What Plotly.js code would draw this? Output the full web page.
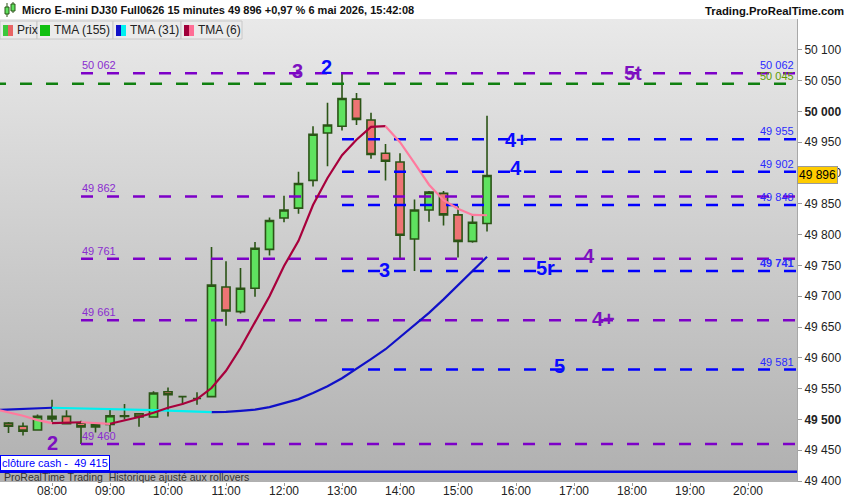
<!DOCTYPE html>
<html><head><meta charset="utf-8">
<script src="https://cdn.plot.ly/plotly-3.0.1.min.js"></script>
<style>
html,body{margin:0;padding:0;background:#fff;}
#wrap{position:relative;width:850px;height:500px;overflow:hidden;}
#bg{position:absolute;left:0;top:19px;width:797px;height:463px;background:linear-gradient(#e9e9e9,#b0b0b0);}
#chart{position:absolute;left:0;top:0;width:850px;height:500px;}
</style></head><body>
<div id="wrap"><div id="bg"></div><div id="chart"></div></div>
<script>
// ---------- data ----------
const DAY = '2026-05-06 ';
const times = ['07:15','07:30','07:45','08:00','08:15','08:30','08:45','09:00','09:15','09:30','09:45',
  '10:00','10:15','10:30','10:45','11:00','11:15','11:30','11:45','12:00','12:15','12:30','12:45',
  '13:00','13:15','13:30','13:45','14:00','14:15','14:30','14:45','15:00','15:15','15:30'];
const opens  = [49494,49489,49483,49501,49505,49494,49488,49492,49505,49509,49504,49545,49537,49534,49537,49715,49675,49713,49776,49827,49843,49888,49965,49976,50020,49986,49932,49918,49793,49840,49867,49832,49789,49818];
const highs  = [49496,49495,49508,49532,49515,49498,49495,49517,49525,49510,49546,49552,49537,49544,49780,49757,49746,49788,49828,49863,49902,49976,50014,50062,50030,49998,49947,49932,49857,49871,49871,49846,49832,49993];
const lows   = [49478,49474,49483,49495,49493,49460,49479,49480,49500,49488,49503,49505,49524,49524,49537,49652,49672,49699,49766,49820,49834,49878,49911,49969,49978,49923,49888,49760,49741,49821,49815,49763,49787,49805];
const closes = [49489,49481,49505,49505,49493,49488,49492,49506,49506,49504,49543,49540,49537,49534,49718,49676,49713,49778,49823,49840,49883,49963,49978,50021,49987,49930,49919,49799,49840,49869,49832,49789,49820,49896];

const lineTimes = ['07:00'].concat(times);
const tma31 = [49515,49516,49517,49518,49519,49518.6,49518.2,49517.8,49517.2,49516.6,49516,49515.2,49514.4,49513.6,49512.8,49512,
  49512.3,49514,49516,49520,49527,49533,49543,49554,49567,49582,49598,49614,49634,49653,49673,49695,49718,49741,49764];
const tma6 = [49517,49512,49506,49499,49494,49495,49495.5,49494,49493,49498,49504,49511,49519,49525,49533,49551,
  49579,49616,49658,49700,49749,49790,49848,49892,49929,49954,49975,49976,49950,49916,49881,49856,49842,49832,49831.5];

// horizontal levels
const levelValues = [50062, 50045, 49955, 49902, 49862, 49848, 49761, 49741, 49661, 49581, 49460];
const levelKinds  = ['p','g','b','b','p','b','p','b','p','b','p'];
const leftLabels  = ['50 062','','','','49 862','','49 761','','49 661','','49 460'];
const rightLabels = ['50 062','50 045','49 955','49 902','','49 848','','49 741','','49 581',''];
const cashClose = 49415;
const lastPrice = 49896;

// wave-count labels
const waveText  = ['3','2','5t','4+','4','3','5r','4','4+','5','2'];
const waveTime  = ['12:14','12:44','18:01','16:00','16:00','13:44','16:31','17:15','17:30','16:45','08:00'];
const waveValue = [50066,50072,50062,49954,49908,49743,49746,49765,49663,49587,49462];
const waveKind  = ['p','b','p','b','b','b','b','p','p','b','p'];

const yTickVals = [49400,49450,49500,49550,49600,49650,49700,49750,49800,49850,49900,49950,50000,50050,50100];
const yTickText = ['49 400','49 450','<b>49 500</b>','49 550','49 600','49 650','49 700','49 750','49 800','49 850','49 900','49 950','<b>50 000</b>','50 050','50 100'];

const titleText = 'Micro E-mini DJ30 Full0626 15 minutes 49 896 +0,97 % 6 mai 2026, 15:42:08';
const legendNames = ['Prix','TMA (155)','TMA (31)','TMA (6)'];

// ---------- styles ----------
const FONT = 'Liberation Sans, Arial, sans-serif';
const COL = {p:'#7d00c8', g:'#108010', b:'#0000ff'};
const LABELCOL = {p:'#8a2cd0', g:'#5f9a00', b:'#2a2aff'};
const levelStart = {p:'08:30', g:'07:00', b:'13:00'};
const W=850, H=500, R=53, T=19, B=18, PW=797, PH=463;
const px = x => x/PW, py = y => (H-B-y)/PH;
const tx = t => DAY + t;

// ---------- traces ----------
const traces = [];
levelValues.forEach((v,i)=>{
  const k = levelKinds[i];
  traces.push({type:'scatter', mode:'lines', x:[tx(levelStart[k]), tx('21:30')], y:[v,v],
    line:{color:COL[k], width:2.5, dash:'12px,14px'}, hoverinfo:'skip', showlegend:false});
});
traces.push({type:'scatter', mode:'lines', x:[tx('07:00'), tx('21:30')], y:[cashClose,cashClose],
  line:{color:'#0000ee', width:2.5}, hoverinfo:'skip', showlegend:false});

function slopeTraces(xs, ys, upCol, downCol, width){
  const out = {up:{x:[],y:[]}, down:{x:[],y:[]}};
  let cur = null;
  for(let i=1;i<ys.length;i++){
    const dir = ys[i] >= ys[i-1] ? 'up' : 'down';
    const s = out[dir];
    if(dir !== cur){
      if(cur){ out[cur].x.push(null); out[cur].y.push(null); }
      s.x.push(tx(xs[i-1])); s.y.push(ys[i-1]);
      cur = dir;
    }
    s.x.push(tx(xs[i])); s.y.push(ys[i]);
  }
  return [
    {type:'scatter', mode:'lines', x:out.up.x, y:out.up.y, connectgaps:false, line:{color:upCol, width:width}, hoverinfo:'skip', showlegend:false},
    {type:'scatter', mode:'lines', x:out.down.x, y:out.down.y, connectgaps:false, line:{color:downCol, width:width}, hoverinfo:'skip', showlegend:false}
  ];
}
traces.push(...slopeTraces(lineTimes, tma31, '#1010c8', '#00f0f0', 2.2));

traces.push({type:'candlestick', x:times.map(tx), open:opens, high:highs, low:lows, close:closes,
  increasing:{line:{color:'#2b5416', width:1.6}, fillcolor:'#5fe25f'},
  decreasing:{line:{color:'#2b5416', width:1.6}, fillcolor:'#ee7474'},
  whiskerwidth:0, hoverinfo:'skip', showlegend:false});

traces.push(...slopeTraces(lineTimes, tma6, '#a8003c', '#ff7a9e', 2.2));

// ---------- annotations ----------
const ann = [];
levelValues.forEach((v,i)=>{
  const k = levelKinds[i];
  if(leftLabels[i]) ann.push({xref:'x', yref:'y', x:tx(levelStart[k]), y:v, xanchor:'left', yanchor:'bottom',
    text:leftLabels[i], showarrow:false, borderpad:0, yshift:1, font:{family:FONT, size:11, color:LABELCOL.p}});
  if(rightLabels[i]) ann.push({xref:'paper', yref:'y', x:1, y:v, xanchor:'right', yanchor:'bottom', xshift:-2,
    text: (v===49741? '<b>'+rightLabels[i]+'</b>' : rightLabels[i]), showarrow:false, borderpad:0, yshift:1,
    font:{family:FONT, size:11, color: k==='g' ? LABELCOL.g : LABELCOL.b}});
});
waveText.forEach((t,i)=>{
  ann.push({xref:'x', yref:'y', x:tx(waveTime[i]), y:waveValue[i], text:'<b>'+t+'</b>', showarrow:false,
    xanchor:'center', yanchor:'middle', font:{family:FONT, size:20, color: waveKind[i]==='p' ? '#7d10c0' : '#0a0aff'}});
});
ann.push({xref:'paper', yref:'y', x:1, y:lastPrice, xanchor:'left', yanchor:'middle', xshift:0, text:'49 896',
  showarrow:false, bgcolor:'#ffcc00', bordercolor:'#9a9a9a', borderwidth:1, borderpad:1,
  font:{family:FONT, size:12, color:'#000'}});
ann.push({xref:'paper', yref:'y', x:0, y:cashClose, xanchor:'left', yanchor:'bottom', yshift:1, text:'clôture cash -  49 415',
  showarrow:false, bgcolor:'#ffffff', bordercolor:'#0000ff', borderwidth:1, borderpad:1,
  font:{family:FONT, size:11, color:'#0000ff'}});
ann.push({xref:'paper', yref:'paper', x:0, y:0, xanchor:'left', yanchor:'bottom', xshift:2, yshift:-3,
  text:'ProRealTime Trading  Historique ajusté aux rollovers', showarrow:false,
  font:{family:FONT, size:10.5, color:'#333'}});
ann.push({xref:'paper', yref:'paper', x:px(846), y:py(11), xanchor:'right', yanchor:'middle',
  text:'<b>Trading.ProRealTime.com</b>', showarrow:false, font:{family:FONT, size:11.3, color:'#111'}});

// legend row
const boxes = [[0,37],[37,113],[113,181],[181,242]];
const iconCols = [['#3cc83c','#e86464'],['#10c010','#10c010'],['#1010c8','#00f0f0'],['#a0003a','#ff6e96']];
const shapes = [];
boxes.forEach((b,i)=>{
  shapes.push({type:'rect', xref:'paper', yref:'paper', x0:px(b[0]), x1:px(b[1]), y0:py(39), y1:py(21),
    fillcolor:'#ebebeb', line:{color:'#c8c8c8', width:1}, layer:'above'});
  const ix = b[0]+3;
  shapes.push({type:'rect', xref:'paper', yref:'paper', x0:px(ix), x1:px(ix+5), y0:py(36), y1:py(25),
    fillcolor:iconCols[i][0], line:{width:0}, layer:'above'});
  shapes.push({type:'rect', xref:'paper', yref:'paper', x0:px(ix+5), x1:px(ix+10), y0:py(36), y1:py(25),
    fillcolor:iconCols[i][1], line:{width:0}, layer:'above'});
  ann.push({xref:'paper', yref:'paper', x:px(ix+12), y:py(30.5), xanchor:'left', yanchor:'middle',
    text:legendNames[i], showarrow:false, font:{family:FONT, size:12, color:'#222'}});
});
// small app icon
[[5,9,7,14,3,17],[11,15,4,11,2,13]].forEach(c=>{
  shapes.push({type:'line', xref:'paper', yref:'paper', x0:px((c[0]+c[1])/2), x1:px((c[0]+c[1])/2), y0:py(c[5]), y1:py(c[4]), line:{color:'#2b5416', width:1}});
  shapes.push({type:'rect', xref:'paper', yref:'paper', x0:px(c[0]), x1:px(c[1]), y0:py(c[3]), y1:py(c[2]), fillcolor:'#5fe25f', line:{color:'#2b5416', width:1}});
});

const layout = {
  width:W, height:H, margin:{l:0, r:R, t:T, b:B, pad:0},
  paper_bgcolor:'rgba(0,0,0,0)', plot_bgcolor:'rgba(0,0,0,0)',
  separators:', ', showlegend:false, hovermode:false, boxgap:0.2,
  font:{family:FONT, size:12, color:'#222'},
  title:{text:'<b>'+titleText+'</b>', x:px(22), xanchor:'left', xref:'paper', y:1-10/H, yref:'container', yanchor:'middle',
    font:{family:FONT, size:11, color:'#111'}},
  xaxis:{type:'date', range:[tx('07:06:12'), tx('20:50:40')], showgrid:false, zeroline:false,
    tickformat:'%H:%M', dtick:3600000, tick0:tx('08:00'), ticks:'outside', ticklen:3, tickcolor:'#9a9a9a',
    ticklabelstandoff:-5,
    tickfont:{family:FONT, size:12, color:'#222'}, showline:false, rangeslider:{visible:false}, fixedrange:true},
  yaxis:{side:'right', range:[49398.5, 50150], showgrid:false, zeroline:false,
    tickmode:'array', tickvals:yTickVals, ticktext:yTickText, ticks:'outside', ticklen:4, tickcolor:'#9a9a9a',
    showline:true, linecolor:'#a8a8a8', linewidth:1, tickfont:{family:FONT, size:12, color:'#222'}, fixedrange:true},
  annotations:ann, shapes:shapes
};
Plotly.newPlot('chart', traces, layout, {staticPlot:true, displayModeBar:false});
</script></body></html>
